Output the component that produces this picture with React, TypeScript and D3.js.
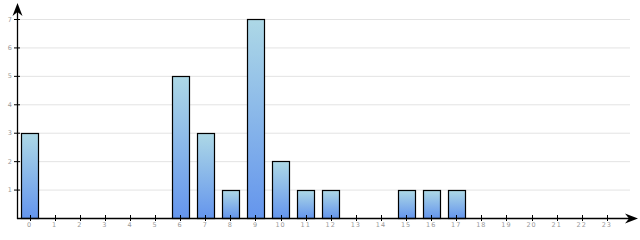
import React from "react";
import * as d3 from "d3";

const categories = ["0","1","2","3","4","5","6","7","8","9","10","11","12","13","14","15","16","17","18","19","20","21","22","23"];
const values = [3,0,0,0,0,0,5,3,1,7,2,1,1,0,0,1,1,1,0,0,0,0,0,0];
const yTicks = [1,2,3,4,5,6,7];

export default function App() {
  const W = 640, H = 240;
  const x0 = 17, y0 = 218;
  const x = d3.scaleBand<string>().domain(categories).range([x0, x0 + 24 * 25.1]).paddingInner(0.32).paddingOuter(0.16);
  const y = d3.scaleLinear().domain([0, 7]).range([y0, 19]);
  const arrow = (cx: number, cy: number, dir: "up" | "right") => {
    if (dir === "up") return `M${cx},${cy} L${cx + 5},${cy + 13} L${cx},${cy + 9} L${cx - 5},${cy + 13} Z`;
    return `M${cx},${cy} L${cx - 13},${cy - 5} L${cx - 9},${cy} L${cx - 13},${cy + 5} Z`;
  };
  return (
    <svg width={W} height={H} style={{ position: "absolute", left: 0, top: 0 }} fontFamily="DejaVu Sans">
      <defs>
        <linearGradient id="g" x1="0" y1="0" x2="0" y2="1">
          <stop offset="0" stopColor="#add8e6" />
          <stop offset="1" stopColor="#6495ed" />
        </linearGradient>
      </defs>
      <rect width={W} height={H} fill="#fff" />
      {yTicks.map((t) => (
        <g key={t}>
          <line x1={x0} x2={630} y1={y(t) + 0.5} y2={y(t) + 0.5} stroke="#e3e3e3" />
          <line x1={x0 - 3} x2={x0 + 3} y1={y(t) + 0.5} y2={y(t) + 0.5} stroke="#000" />
          <text x={12} y={y(t) + 2.5} fontSize={6.5} fill="#999" textAnchor="end">{t}</text>
        </g>
      ))}
      {categories.map((c, i) => {
        const cx = (x(c) as number) + x.bandwidth() / 2;
        const v = values[i];
        return (
          <g key={c}>
            {v > 0 && (
              <rect x={Math.round(x(c) as number) + 0.5} y={Math.round(y(v)) + 0.5} width={Math.round(x.bandwidth())} height={Math.round(y0 - y(v))} fill="url(#g)" stroke="#000" strokeWidth={1.2} />
            )}
            <line x1={Math.round(cx) + 0.5} x2={Math.round(cx) + 0.5} y1={y0 - 3} y2={y0 + 3} stroke="#000" />
            <text x={cx} y={y0 + 9} fontSize={6.5} fill="#999" textAnchor="middle" letterSpacing={1}>{c}</text>
          </g>
        );
      })}
      <line x1={x0 + 0.5} x2={x0 + 0.5} y1={y0 + 1} y2={8} stroke="#000" strokeWidth={1.3} />
      <line x1={x0} x2={630} y1={y0 + 0.5} y2={y0 + 0.5} stroke="#000" strokeWidth={1.3} />
      <path d={arrow(x0 + 0.5, 3, "up")} fill="#000" />
      <path d={arrow(638, y0 + 0.5, "right")} fill="#000" />
    </svg>
  );
}
